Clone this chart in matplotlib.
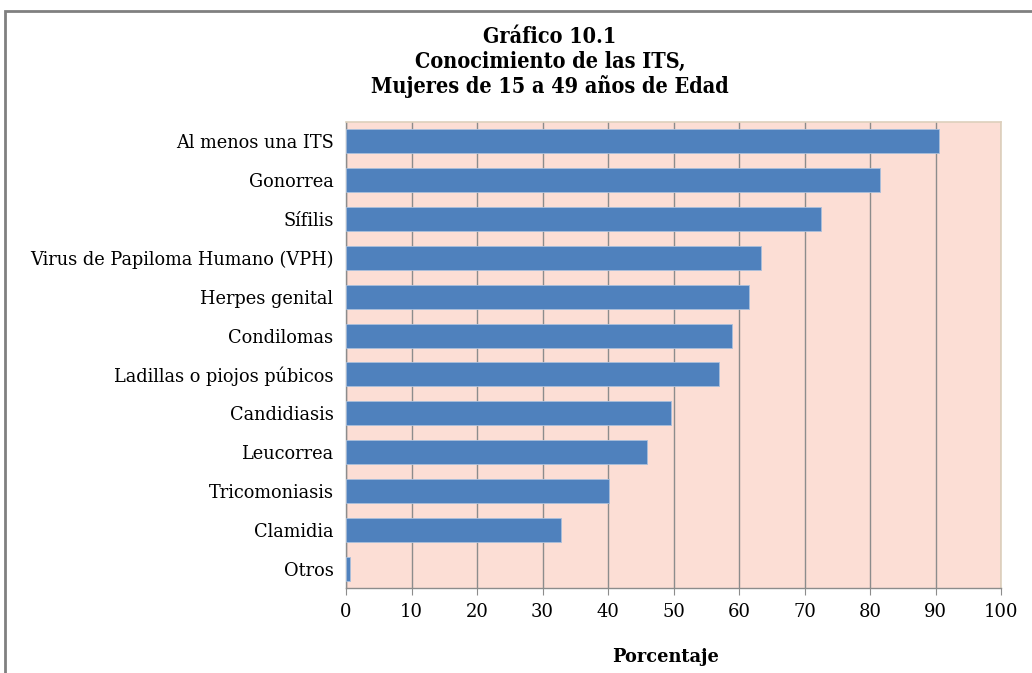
import matplotlib.pyplot as plt
from matplotlib.patches import Rectangle

categories = ["Al menos una ITS", "Gonorrea", "Sífilis",
              "Virus de Papiloma Humano (VPH)", "Herpes genital", "Condilomas",
              "Ladillas o piojos púbicos", "Candidiasis", "Leucorrea",
              "Tricomoniasis", "Clamidia", "Otros"]
values = [90.6, 81.6, 72.5, 63.4, 61.5, 58.9, 57.0, 49.6, 46.0, 40.1, 32.8, 0.6]
xticks = list(range(0, 101, 10))

title_lines = "Gráfico 10.1\nConocimiento de las ITS,\nMujeres de 15 a 49 años de Edad"

W, H = 1032, 673
fig = plt.figure(figsize=(W / 100, H / 100), dpi=100, facecolor="white")
serif = ["DejaVu Serif"]

# outer chart border (cropped at right/bottom)
fig.patches.append(Rectangle((5 / W, -0.05), 1.2, 1 - 11 / H + 0.05,
                             transform=fig.transFigure, fill=False,
                             edgecolor="#808080", linewidth=2.0))

ax = fig.add_axes([346 / W, 1 - 588 / H, (1001 - 346) / W, (588 - 122) / H])
ax.set_facecolor("#fcded5")

y = list(range(len(categories)))
ax.barh(y, values, height=0.62, color="#4f81bd", edgecolor="#a9bfdc",
        linewidth=0.6, zorder=3)
ax.set_ylim(len(categories) - 0.5, -0.5)
ax.set_xlim(0, 100)
ax.set_xticks(xticks)
ax.set_xticklabels([str(t) for t in xticks], fontsize=13, family=serif)
ax.set_yticks(y)
ax.set_yticklabels(categories, fontsize=12.8, family=serif)
ax.tick_params(axis="y", length=0, pad=9)
ax.tick_params(axis="x", length=5, color="#8c8c8c", pad=6)
ax.grid(axis="x", color="#8c8c8c", linewidth=1.0, zorder=1)

for s in ["top", "right"]:
    ax.spines[s].set_color("#ddd0bc")
    ax.spines[s].set_linewidth(1.2)
for s in ["left", "bottom"]:
    ax.spines[s].set_color("#8c8c8c")
    ax.spines[s].set_linewidth(1.0)

fig.text(550 / W, 1 - 62 / H, title_lines, ha="center", va="center",
         fontsize=15.5, fontweight="bold", family=serif,
         fontstretch="condensed", linespacing=1.15)
fig.text(666 / W, 1 - 657 / H, "Porcentaje", ha="center", va="center",
         fontsize=12.8, fontweight="bold", family=serif)

fig.savefig("out.png", dpi=100, facecolor="white")
